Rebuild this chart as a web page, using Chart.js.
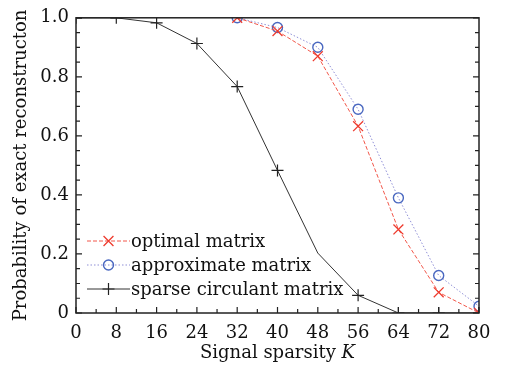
<!DOCTYPE html>
<html>
<head>
<meta charset="utf-8">
<script src="https://cdn.jsdelivr.net/npm/chart.js@4/dist/chart.umd.min.js"></script>
<style>
  html, body { margin: 0; padding: 0; background: #fff; }
  #wrap { width: 513px; height: 371px; }
</style>
</head>
<body>
<div id="wrap"><canvas id="c"></canvas></div>
<script>
const sparsity = [0, 8, 16, 24, 32, 40, 48, 56, 64, 72, 80]
const optimal = [null, null, null, null, 1.0, 0.955, 0.87, 0.633, 0.283, 0.07, 0.0]
const approximate = [null, null, null, null, 1.0, 0.967, 0.9, 0.69, 0.39, 0.127, 0.023]
const circulant = [1.0, 1.0, 0.983, 0.913, 0.767, 0.483, 0.203, 0.06, 0.0, 0.0, 0.0]
const seriesNames = ['optimal matrix', 'approximate matrix', 'sparse circulant matrix']
const xTicks = [0, 8, 16, 24, 32, 40, 48, 56, 64, 72, 80]

const SERIF = '"DejaVu Serif", "Liberation Serif", serif'

const pts = (ys) => sparsity.map((k, i) => ({ x: k, y: ys[i] }))

// ticks pointing into the plot, frame, legend and x title
const framePlugin = {
  id: 'frame',
  afterDraw(chart) {
    const { ctx, chartArea: a, scales } = chart
    const xs = scales.x, ys = scales.y
    ctx.save()
    ctx.strokeStyle = '#222'
    ctx.lineWidth = 1.5
    ctx.strokeRect(a.left, a.top, a.right - a.left, a.bottom - a.top)
    ctx.lineWidth = 1.2
    ctx.beginPath()
    for (let k = 0; k <= 80; k += 4) {
      const px = xs.getPixelForValue(k)
      const len = k % 8 === 0 ? 6 : 4
      ctx.moveTo(px, a.bottom)
      ctx.lineTo(px, a.bottom - len)
    }
    for (let v = 0; v <= 1.0001; v += 0.05) {
      const py = ys.getPixelForValue(v)
      const major = Math.abs(v * 5 - Math.round(v * 5)) < 1e-6
      const len = major ? 6 : 4
      ctx.moveTo(a.left, py)
      ctx.lineTo(a.left + len, py)
      ctx.moveTo(a.right, py)
      ctx.lineTo(a.right - len, py)
    }
    ctx.stroke()

    // legend
    const rows = [241, 265, 289]
    chart.data.datasets.forEach((ds, i) => {
      const y = rows[i]
      const x0 = 87, x1 = 130, xm = (x0 + x1) / 2
      ctx.strokeStyle = ds.borderColor
      ctx.lineWidth = ds.borderWidth
      ctx.setLineDash(ds.borderDash || [])
      ctx.beginPath()
      ctx.moveTo(x0, y)
      ctx.lineTo(x1, y)
      ctx.stroke()
      ctx.setLineDash([])
      ctx.strokeStyle = ds.pointBorderColor
      ctx.fillStyle = 'rgba(255,255,255,0)'
      ctx.lineWidth = ds.pointBorderWidth
      Chart.helpers.drawPoint(ctx, {
        pointStyle: ds.pointStyle,
        radius: ds.legendRadius,
        borderWidth: ds.pointBorderWidth
      }, xm, y)
      ctx.fillStyle = '#111'
      ctx.font = '18px ' + SERIF
      ctx.textBaseline = 'middle'
      ctx.textAlign = 'left'
      ctx.fillText(seriesNames[i], x1 + 1, y + 1)
    })

    // x title with italic K
    ctx.fillStyle = '#111'
    ctx.textBaseline = 'middle'
    const t1 = 'Signal sparsity '
    ctx.font = '18px ' + SERIF
    const w1 = ctx.measureText(t1).width
    ctx.font = 'italic 18px ' + SERIF
    const w2 = ctx.measureText('K').width
    const cx = (a.left + a.right) / 2
    const sx = cx - (w1 + w2) / 2
    ctx.textAlign = 'left'
    ctx.font = '18px ' + SERIF
    ctx.fillText(t1, sx, 353)
    ctx.font = 'italic 18px ' + SERIF
    ctx.fillText('K', sx + w1, 353)
    ctx.restore()
  }
}

new Chart(document.getElementById('c').getContext('2d'), {
  type: 'line',
  data: {
    datasets: [
      {
        label: seriesNames[0],
        data: pts(optimal),
        borderColor: '#f2574a',
        borderWidth: 1,
        borderDash: [4, 2],
        pointStyle: 'crossRot',
        pointRadius: 7,
        legendRadius: 7,
        pointBorderWidth: 1.3,
        pointBorderColor: '#ee3b2e',
        fill: false,
        tension: 0
      },
      {
        label: seriesNames[1],
        data: pts(approximate),
        borderColor: '#8f8fd6',
        borderWidth: 1,
        borderDash: [1.5, 2],
        pointStyle: 'circle',
        pointRadius: 5,
        legendRadius: 5,
        pointBorderWidth: 1.4,
        pointBorderColor: '#4a68c0',
        pointBackgroundColor: 'rgba(255,255,255,0)',
        fill: false,
        tension: 0
      },
      {
        label: seriesNames[2],
        data: pts(circulant),
        borderColor: '#333',
        borderWidth: 1,
        pointStyle: 'cross',
        pointRadius: [6, 6, 6, 6, 6, 6, 0, 6, 6, 6, 6],
        legendRadius: 6,
        pointBorderWidth: 1.2,
        pointBorderColor: '#222',
        fill: false,
        tension: 0
      }
    ]
  },
  options: {
    responsive: true,
    maintainAspectRatio: false,
    animation: false,
    layout: { padding: { left: 0, right: 34, top: 13, bottom: 0 } },
    plugins: {
      legend: { display: false },
      tooltip: { enabled: false }
    },
    scales: {
      x: {
        type: 'linear',
        min: 0,
        max: 80,
        afterBuildTicks: (s) => { s.ticks = xTicks.map((v) => ({ value: v })) },
        afterFit: (s) => { s.height = 58 },
        grid: { display: false, drawTicks: false },
        border: { display: false },
        ticks: {
          color: '#111',
          font: { family: SERIF, size: 18 },
          padding: 10,
          maxRotation: 0,
          autoSkip: false
        }
      },
      y: {
        type: 'linear',
        min: 0,
        max: 1,
        afterFit: (s) => { s.width = 76 },
        grid: { display: false, drawTicks: false },
        border: { display: false },
        ticks: {
          stepSize: 0.2,
          color: '#111',
          font: { family: SERIF, size: 18 },
          padding: 7,
          callback: (v) => (v === 0 ? '0' : v.toFixed(1))
        },
        title: {
          display: true,
          text: 'Probability of exact reconstructon',
          color: '#111',
          font: { family: SERIF, size: 18 },
          padding: { top: 11, bottom: 0 }
        }
      }
    }
  },
  plugins: [framePlugin]
})
</script>
</body>
</html>
